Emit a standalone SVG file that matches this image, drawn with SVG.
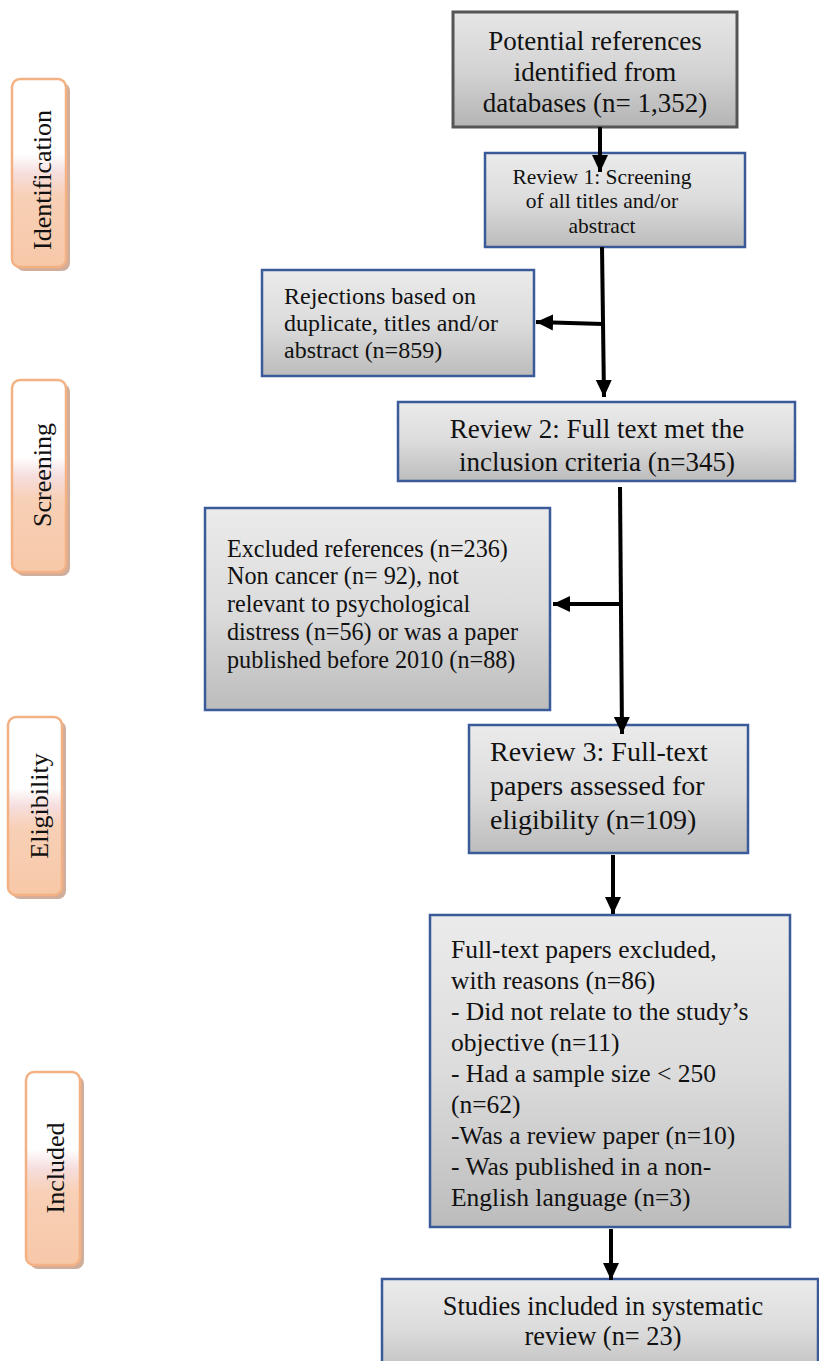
<svg xmlns="http://www.w3.org/2000/svg" width="819" height="1361" viewBox="0 0 819 1361">
<defs>
<linearGradient id="gbox" x1="0" y1="0" x2="0" y2="1">
<stop offset="0" stop-color="#ebebeb"/><stop offset="0.5" stop-color="#dcdcdc"/><stop offset="1" stop-color="#bcbcbc"/>
</linearGradient>
<linearGradient id="gbox1" x1="0" y1="0" x2="0" y2="1">
<stop offset="0" stop-color="#e6e6e6"/><stop offset="0.5" stop-color="#d4d4d4"/><stop offset="1" stop-color="#b4b4b4"/>
</linearGradient>
<linearGradient id="gside" x1="0" y1="0" x2="0" y2="1">
<stop offset="0" stop-color="#ffffff"/><stop offset="0.4" stop-color="#ffffff"/><stop offset="0.5" stop-color="#f6dede"/><stop offset="0.62" stop-color="#f8d0b6"/><stop offset="1" stop-color="#f7c8a8"/>
</linearGradient>
<marker id="ah" markerUnits="userSpaceOnUse" markerWidth="18" markerHeight="18" viewBox="0 0 18 18" refX="17" refY="9" orient="auto">
<path d="M0,1 L17,9 L0,17 Z" fill="#000"/>
</marker>
</defs>
<style>
.box{fill:url(#gbox);stroke:#3b5a9a;stroke-width:2.5}
.box1{fill:url(#gbox1);stroke:#555;stroke-width:3}
.side{fill:url(#gside);stroke:#f4b183;stroke-width:2.5}
.shadow{fill:#c8a08a;opacity:0.85}
text{font-family:"Liberation Serif","Times New Roman",serif;fill:#111}
.c{text-anchor:middle}
.con{stroke:#000;stroke-width:4;fill:none}
</style>

<g id="side-identification">
<rect class="shadow" x="16" y="83" width="54" height="188" rx="8"/>
<rect class="side" x="12" y="79" width="54" height="188" rx="8"/>
<text class="c" font-size="26" transform="translate(51,180) rotate(-90)">Identification</text>
</g>
<g id="side-screening">
<rect class="shadow" x="16" y="384" width="54" height="192" rx="8"/>
<rect class="side" x="12" y="380" width="54" height="192" rx="8"/>
<text class="c" font-size="26" transform="translate(51,475) rotate(-90)">Screening</text>
</g>
<g id="side-eligibility">
<rect class="shadow" x="12" y="721" width="54" height="178" rx="8"/>
<rect class="side" x="8" y="717" width="54" height="178" rx="8"/>
<text class="c" font-size="26" transform="translate(48,806) rotate(-90)">Eligibility</text>
</g>
<g id="side-included">
<rect class="shadow" x="30" y="1076" width="54" height="193" rx="8"/>
<rect class="side" x="26" y="1072" width="54" height="193" rx="8"/>
<text class="c" font-size="26" transform="translate(64,1168) rotate(-90)">Included</text>
</g>

<g id="n-potential">
<rect class="box1" x="453" y="12" width="284" height="115"/>
<text class="c" font-size="27" x="595" y="50">Potential references</text>
<text class="c" font-size="27" x="595" y="81">identified from</text>
<text class="c" font-size="27" x="595" y="112">databases (n= 1,352)</text>
</g>
<g id="n-review1">
<rect class="box" x="485" y="153" width="260" height="94"/>
<text class="c" font-size="21.5" x="602" y="184">Review 1: Screening</text>
<text class="c" font-size="21.5" x="602" y="208">of all titles and/or</text>
<text class="c" font-size="21.5" x="602" y="233">abstract</text>
</g>
<g id="n-rejections">
<rect class="box" x="262" y="270" width="272" height="106"/>
<text font-size="24" x="284" y="304">Rejections based on</text>
<text font-size="24" x="284" y="331">duplicate, titles and/or</text>
<text font-size="24" x="284" y="358">abstract (n=859)</text>
</g>
<g id="n-review2">
<rect class="box" x="398" y="402" width="397" height="79"/>
<text class="c" font-size="27" x="597" y="438">Review 2: Full text met the</text>
<text class="c" font-size="27" x="597" y="471">inclusion criteria (n=345)</text>
</g>
<g id="n-excluded">
<rect class="box" x="205" y="508" width="345" height="202"/>
<text font-size="24.2" x="227" y="557">Excluded references (n=236)</text>
<text font-size="24.2" x="227" y="584">Non cancer (n= 92), not</text>
<text font-size="24.2" x="227" y="612">relevant to psychological</text>
<text font-size="24.2" x="227" y="640">distress (n=56) or was a paper</text>
<text font-size="24.2" x="227" y="668">published before 2010 (n=88)</text>
</g>
<g id="n-review3">
<rect class="box" x="469" y="725" width="279" height="128"/>
<text font-size="28" x="490" y="761">Review 3: Full-text</text>
<text font-size="28" x="490" y="795">papers assessed for</text>
<text font-size="28" x="490" y="829">eligibility (n=109)</text>
</g>
<g id="n-fulltext-excluded">
<rect class="box" x="430" y="915" width="360" height="312"/>
<text font-size="25.5" x="451" y="958">Full-text papers excluded,</text>
<text font-size="25.5" x="451" y="989">with reasons (n=86)</text>
<text font-size="25.5" x="451" y="1020">- Did not relate to the study’s</text>
<text font-size="25.5" x="451" y="1051">objective (n=11)</text>
<text font-size="25.5" x="451" y="1082">- Had a sample size &lt; 250</text>
<text font-size="25.5" x="451" y="1113">(n=62)</text>
<text font-size="25.5" x="451" y="1144">-Was a review paper (n=10)</text>
<text font-size="25.5" x="451" y="1175">- Was published in a non-</text>
<text font-size="25.5" x="451" y="1206">English language (n=3)</text>
</g>
<g id="n-studies">
<rect class="box" x="382" y="1279" width="436" height="100"/>
<text class="c" font-size="26.4" x="603" y="1315">Studies included in systematic</text>
<text class="c" font-size="26.4" x="603" y="1345">review (n= 23)</text>
</g>

<g id="connectors">
<line class="con" x1="600" y1="127" x2="600" y2="172" marker-end="url(#ah)"/>
<line class="con" x1="602" y1="247" x2="604" y2="397" marker-end="url(#ah)"/>
<line class="con" x1="603" y1="324" x2="536" y2="322" marker-end="url(#ah)"/>
<line class="con" x1="620" y1="487" x2="622" y2="734" marker-end="url(#ah)"/>
<line class="con" x1="620" y1="604" x2="553" y2="604" marker-end="url(#ah)"/>
<line class="con" x1="613" y1="855" x2="613" y2="914" marker-end="url(#ah)"/>
<line class="con" x1="611" y1="1229" x2="611" y2="1280" marker-end="url(#ah)"/>
</g>
</svg>
